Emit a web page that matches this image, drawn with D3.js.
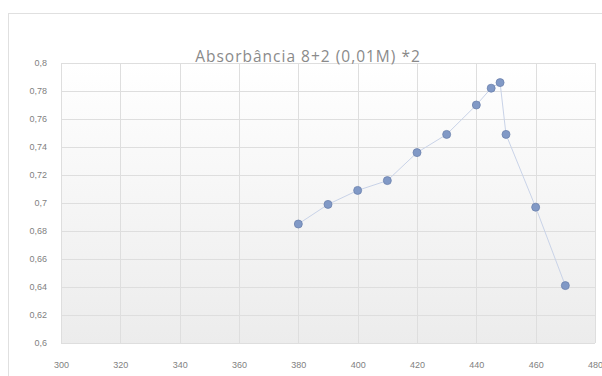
<!DOCTYPE html>
<html><head><meta charset="utf-8">
<script src="https://cdn.jsdelivr.net/npm/d3@7"></script>
<style>body{margin:0;background:#fff}svg{display:block}</style>
</head><body>
<svg id="c" width="602" height="376"></svg>
<script>
const titleText = "Absorbância 8+2 (0,01M) *2";
const wavelengths = [380, 390, 400, 410, 420, 430, 440, 445, 448, 450, 460, 470];
const absorbance = [0.685, 0.699, 0.709, 0.716, 0.736, 0.749, 0.770, 0.782, 0.786, 0.749, 0.697, 0.641];
const xTicks = [300, 320, 340, 360, 380, 400, 420, 440, 460, 480];
const yTicks = [0.6, 0.62, 0.64, 0.66, 0.68, 0.7, 0.72, 0.74, 0.76, 0.78, 0.8];

const svg = d3.select("#c");
const W = 602, H = 376;
const m = {left: 61, right: 7, top: 63, bottom: 33};
const x = d3.scaleLinear().domain([300, 480]).range([m.left, W - m.right]);
const y = d3.scaleLinear().domain([0.6, 0.8]).range([H - m.bottom, m.top]);

const defs = svg.append("defs");
const g = defs.append("linearGradient").attr("id", "bg").attr("x1", 0).attr("y1", 0).attr("x2", 0).attr("y2", 1);
g.append("stop").attr("offset", "0%").attr("stop-color", "#ffffff");
g.append("stop").attr("offset", "100%").attr("stop-color", "#ececec");

// chart border
svg.append("rect").attr("x", 8.5).attr("y", 13.5).attr("width", W).attr("height", H)
  .attr("fill", "#fff").attr("stroke", "#e0e0e0");

// plot background
svg.append("rect").attr("x", m.left).attr("y", m.top)
  .attr("width", W - m.right - m.left).attr("height", H - m.bottom - m.top)
  .attr("fill", "url(#bg)");

// gridlines
svg.append("g").selectAll("line").data(yTicks).join("line")
  .attr("x1", m.left).attr("x2", W - m.right)
  .attr("y1", d => Math.round(y(d)) + 0.5).attr("y2", d => Math.round(y(d)) + 0.5)
  .attr("stroke", "#dedede");
svg.append("g").selectAll("line").data(xTicks).join("line")
  .attr("y1", m.top).attr("y2", H - m.bottom)
  .attr("x1", d => Math.round(x(d)) + 0.5).attr("x2", d => Math.round(x(d)) + 0.5)
  .attr("stroke", "#dedede");

const fmtY = d => d3.format("")(+d.toFixed(2)).replace(".", ",");
const labelFont = "Liberation Sans, Arial, sans-serif";

// y axis labels
const ya = d3.axisLeft(y).tickValues(yTicks).tickFormat(fmtY).tickSize(0).tickPadding(0);
svg.append("g").attr("transform", `translate(${m.left - 14},0)`).call(ya)
  .call(s => s.select(".domain").remove())
  .selectAll("text").attr("fill", "#7f7f7f").style("font-family", labelFont).style("font-size", "9px");

// x axis labels
const xa = d3.axisBottom(x).tickValues(xTicks).tickFormat(d3.format("d")).tickSize(0).tickPadding(0);
svg.append("g").attr("transform", `translate(0,${H - m.bottom + 19})`).call(xa)
  .call(s => s.select(".domain").remove())
  .selectAll("text").attr("fill", "#7f7f7f").style("font-family", labelFont).style("font-size", "9px");

// title
svg.append("text").attr("x", 308).attr("y", 62).attr("text-anchor", "middle")
  .attr("fill", "#8a8a8a").style("font-family", "Open Sans, Liberation Sans, sans-serif")
  .style("font-size", "15.5px").style("letter-spacing", "1px")
  .text(titleText);

// line
const data = wavelengths.map((w, i) => [w, absorbance[i]]);
svg.append("path").datum(data)
  .attr("d", d3.line().x(d => x(d[0])).y(d => y(d[1])))
  .attr("fill", "none").attr("stroke", "#c9d3e8").attr("stroke-width", 1);

// markers
svg.append("g").selectAll("circle").data(data).join("circle")
  .attr("cx", d => x(d[0])).attr("cy", d => y(d[1])).attr("r", 4)
  .attr("fill", "#8199c6").attr("stroke", "#6d83ad").attr("stroke-width", 0.8);
</script>
</body></html>
